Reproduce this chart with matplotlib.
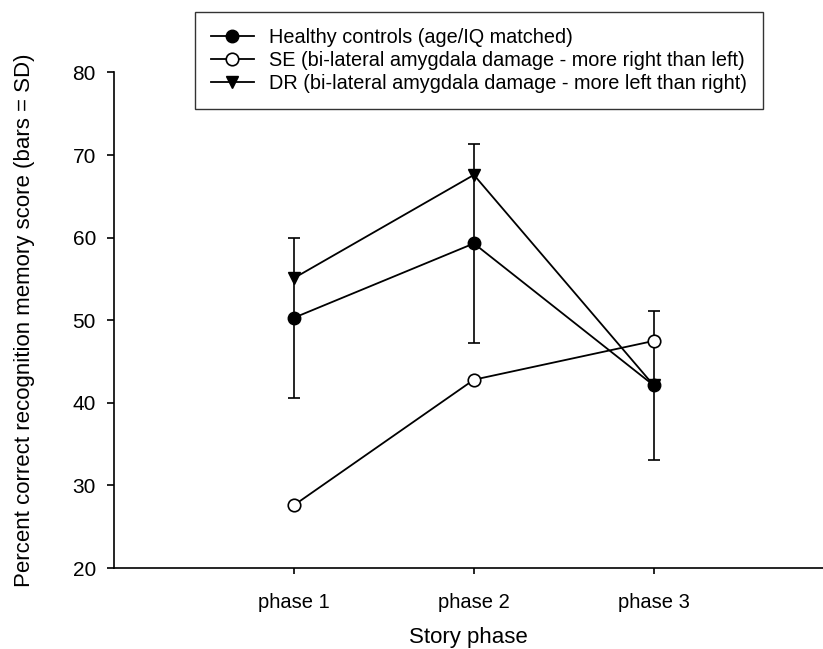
import numpy as np
import matplotlib.pyplot as plt

plt.rcParams['font.family'] = ['Liberation Sans', 'DejaVu Sans']

# data
phases = ['phase 1', 'phase 2', 'phase 3']
x = np.array([1, 2, 3])
healthy = [50.3, 59.3, 42.1]
healthy_sd = [9.7, 12.1, 9.0]
se = [27.6, 42.8, 47.5]
dr = [55.1, 67.6, 42.1]

labels = ['Healthy controls (age/IQ matched)',
          'SE (bi-lateral amygdala damage - more right than left)',
          'DR (bi-lateral amygdala damage - more left than right)']

fig = plt.figure(figsize=(8.23, 6.49), dpi=100)
ax = fig.add_axes([0.1385, 0.1248, 0.8615, 0.7635])

lw = 1.3
ms = 9
# DR (triangles)
l3, = ax.plot(x, dr, color='black', lw=lw, marker='v', ms=ms,
              markerfacecolor='black', zorder=3)
# SE (open circles)
l2, = ax.plot(x, se, color='black', lw=lw, marker='o', ms=ms,
              markerfacecolor='white', markeredgewidth=1.2, zorder=4)
# healthy controls with SD bars
ax.errorbar(x, healthy, yerr=healthy_sd, fmt='none', ecolor='black',
            elinewidth=1.2, capsize=4.3, capthick=1.2, zorder=2)
l1, = ax.plot(x, healthy, color='black', lw=lw, marker='o', ms=ms,
              markerfacecolor='black', zorder=5)

ax.set_xlim(0, 3.94)
ax.set_ylim(20, 80)
ax.set_yticks(np.arange(20, 81, 10))
ax.set_xticks(x)
ax.set_xticklabels(phases)
ax.spines['top'].set_visible(False)
ax.spines['right'].set_visible(False)
ax.spines['left'].set_linewidth(1.2)
ax.spines['bottom'].set_linewidth(1.2)
ax.tick_params(axis='y', direction='out', length=5, width=1.2, labelsize=15, pad=8)
ax.tick_params(axis='x', direction='out', length=4, width=1.2, labelsize=14.5, pad=14)

ax.set_xlabel('Story phase', fontsize=16, labelpad=11)
ax.set_ylabel('Percent correct recognition memory score (bars = SD)', fontsize=16, labelpad=27)

leg = fig.legend([l1, l2, l3], labels, loc='upper left',
                 bbox_to_anchor=(195 / 823, 1 - 12 / 649), fontsize=14.3,
                 frameon=True, fancybox=False, edgecolor='black',
                 handlelength=2.15, handletextpad=0.8, labelspacing=0.2,
                 borderpad=0.8, borderaxespad=0)
leg.get_frame().set_linewidth(1.0)

fig.savefig('out.png', dpi=100)
